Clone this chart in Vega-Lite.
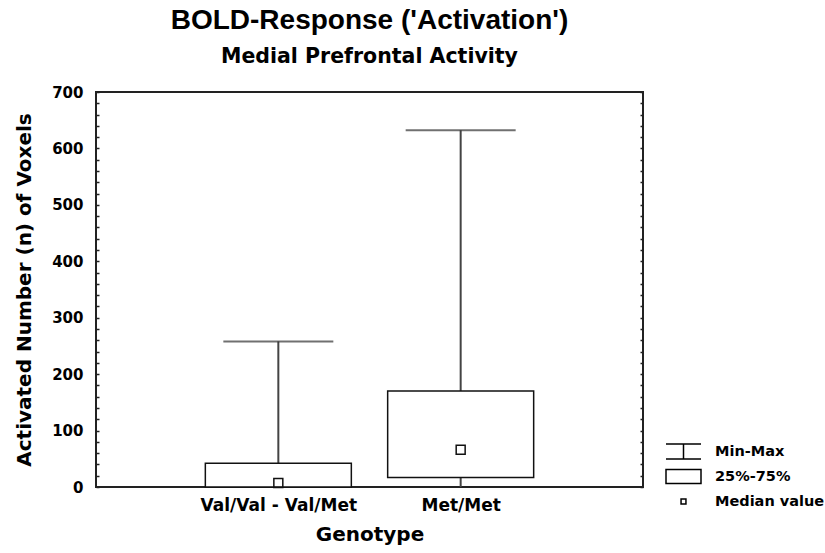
{
  "$schema": "https://vega.github.io/schema/vega-lite/v6.json",
  "width": 547,
  "height": 395,
  "autosize": {"type": "none"},
  "padding": {"left": 96, "top": 92, "right": 182, "bottom": 66},
  "config": {
    "font": "DejaVu Sans",
    "view": {"stroke": "#222", "strokeWidth": 2},
    "axis": {
      "labelFont": "DejaVu Sans", "labelFontWeight": "bold", "labelColor": "#000",
      "titleFont": "DejaVu Sans", "titleFontWeight": "bold", "titleColor": "#000",
      "grid": false, "domain": false
    }
  },
  "title": {
    "text": "BOLD-Response ('Activation')",
    "subtitle": "Medial Prefrontal Activity",
    "anchor": "middle",
    "font": "Liberation Sans", "fontSize": 28, "fontWeight": "bold", "color": "#000",
    "subtitleFont": "DejaVu Sans", "subtitleFontSize": 20.5, "subtitleFontWeight": "bold", "subtitleColor": "#000",
    "offset": 18, "subtitlePadding": 12
  },
  "data": {
    "values": [
      {"genotype": "Val/Val - Val/Met", "min": 0, "q1": 0, "median": 7, "q3": 42, "max": 258, "item": "Median value"},
      {"genotype": "Met/Met", "min": 0, "q1": 17, "median": 66, "q3": 170, "max": 632, "item": "Median value"}
    ]
  },
  "encoding": {
    "x": {
      "field": "genotype", "type": "nominal", "sort": null,
      "scale": {"type": "point", "padding": 1},
      "axis": {"title": "Genotype", "titleFontSize": 20, "titlePadding": 11, "labelFontSize": 17, "labelPadding": 10, "labelAngle": 0, "ticks": false}
    }
  },
  "layer": [
    {
      "mark": {"type": "rule", "color": "#444", "strokeWidth": 2},
      "encoding": {
        "y": {
          "field": "min", "type": "quantitative",
          "scale": {"domain": [0, 700], "nice": false, "zero": true},
          "axis": {
            "title": "Activated Number (n) of Voxels", "titleFontSize": 20, "titlePadding": 17,
            "values": [0,20,40,60,80,100,120,140,160,180,200,220,240,260,280,300,320,340,360,380,400,420,440,460,480,500,520,540,560,580,600,620,640,660,680,700],
            "labelExpr": "datum.value % 100 === 0 ? datum.label : ''",
            "labelFontSize": 15, "labelPadding": 16, "tickSize": -3, "tickColor": "#222", "tickWidth": 1.5,
            "labelOverlap": false, "labelFlush": false, "labelBound": false
          }
        },
        "y2": {"field": "max"}
      }
    },
    {
      "mark": {"type": "bar", "size": 146, "fill": "#fff", "stroke": "#111", "strokeWidth": 1.5},
      "encoding": {
        "y": {
          "field": "q1", "type": "quantitative",
          "axis": {
            "orient": "right", "title": null, "labels": false,
            "values": [0,20,40,60,80,100,120,140,160,180,200,220,240,260,280,300,320,340,360,380,400,420,440,460,480,500,520,540,560,580,600,620,640,660,680,700],
            "tickSize": -3, "tickColor": "#222", "tickWidth": 1.5
          }
        },
        "y2": {"field": "q3"}
      }
    },
    {
      "mark": {"type": "tick", "size": 110, "thickness": 2, "color": "#333"},
      "encoding": {"y": {"field": "max", "type": "quantitative", "axis": null}}
    },
    {
      "mark": {"type": "point", "filled": false, "color": "#111", "strokeWidth": 1.5, "size": 4100, "opacity": 1},
      "encoding": {
        "y": {"field": "median", "type": "quantitative", "axis": null},
        "shape": {
          "field": "item", "type": "nominal",
          "scale": {
            "domain": ["Min-Max", "25%-75%", "Median value"],
            "range": ["M-1,-0.43H1M0,-0.43V0.43M-1,0.43H1", "M-1,-0.4H1V0.4H-1Z", "M-0.14,-0.14H0.14V0.14H-0.14Z"]
          },
          "legend": {
            "title": null, "orient": "none", "legendX": 569, "legendY": 347,
            "symbolSize": 1225, "symbolStrokeWidth": 1.5, "symbolStrokeColor": "#000", "symbolFillColor": "transparent", "symbolOpacity": 1,
            "labelFont": "DejaVu Sans", "labelFontWeight": "bold", "labelFontSize": 14.5, "labelColor": "#000",
            "labelOffset": 13, "clipHeight": 25, "rowPadding": 0, "padding": 0
          }
        }
      }
    }
  ],
  "resolve": {"axis": {"y": "independent"}}
}
